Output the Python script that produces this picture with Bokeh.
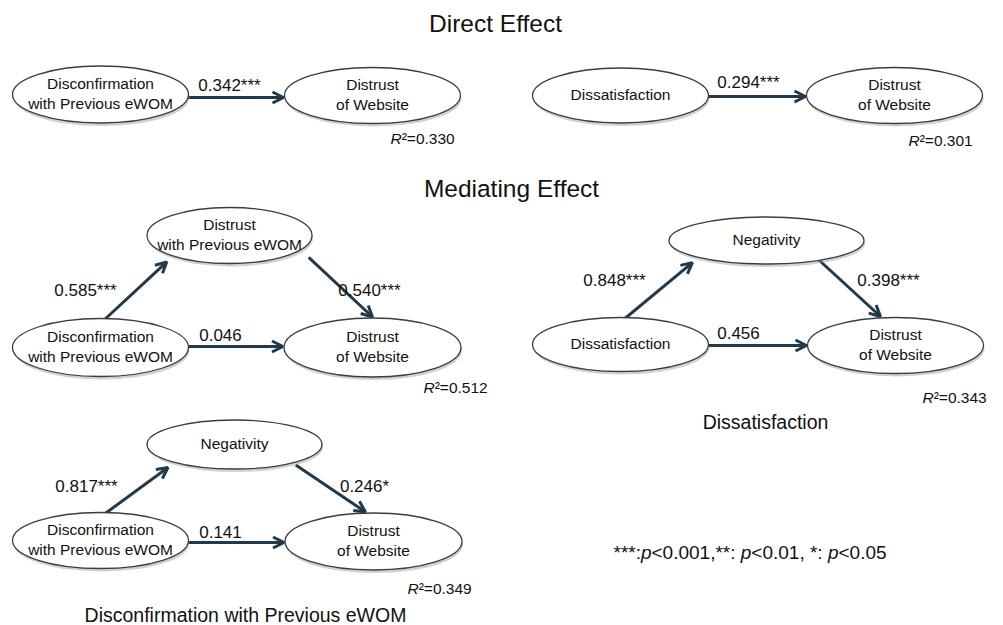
from bokeh.plotting import figure
from bokeh.models import Range1d, ColumnDataSource, Arrow, OpenHead
from bokeh.core.properties import value
from bokeh.embed import file_html
from bokeh.resources import INLINE

FONT = "Liberation Sans"
NAVY = "#1d3a4e"
INK = "#111111"

# ---------------- content ----------------
section_titles = ["Direct Effect", "Mediating Effect"]
panel_captions = ["Dissatisfaction", "Disconfirmation with Previous eWOM"]

panels = ["A", "B", "C", "D", "E"]
node_x = ["Disconfirmation\nwith Previous eWOM", "Dissatisfaction",
          "Disconfirmation\nwith Previous eWOM", "Dissatisfaction",
          "Disconfirmation\nwith Previous eWOM"]
node_m = [None, None, "Distrust\nwith Previous eWOM", "Negativity", "Negativity"]
node_y = ["Distrust\nof Website"] * 5
coef_xy = ["0.342***", "0.294***", "0.046", "0.456", "0.141"]
coef_xm = [None, None, "0.585***", "0.848***", "0.817***"]
coef_my = [None, None, "0.540***", "0.398***", "0.246*"]
r2_values = ["0.330", "0.301", "0.512", "0.343", "0.349"]
note_segments = [("***:", "normal"), ("p", "italic"), ("<0.001,**: ", "normal"),
                 ("p", "italic"), ("<0.01, *: ", "normal"), ("p", "italic"),
                 ("<0.05", "normal")]

# ---------------- layout (pixel positions; text positions = centre x, visual centre y) ----
LAY = {
    "A": dict(x=(100, 94, 176, 57), y=(372, 95, 176, 56), hy=97, l_xy=(229, 85), r2=(390, 138)),
    "B": dict(x=(620, 95, 176, 55), y=(894, 95, 176, 56), hy=96, l_xy=(748, 82), r2=(908, 140)),
    "C": dict(x=(100, 347, 176, 58), m=(229, 235, 165, 56), y=(372, 347, 177, 59), hy=346,
              l_xy=(220, 334), l_xm=(85, 290), l_my=(369, 290),
              down=(0.48, 0.39, 0), r2=(423, 387)),
    "D": dict(x=(620, 344, 176, 54), m=(766, 240, 195, 47), y=(895, 345, 176, 56), hy=345,
              l_xy=(738, 332), l_xm=(614, 280), l_my=(888, 280),
              down=(0.27, 0.42, -15), r2=(922, 397)),
    "E": dict(x=(100, 540, 176, 56), m=(234, 444, 175, 49), y=(373, 541, 177, 57), hy=542,
              l_xy=(220, 531), l_xm=(86, 486), l_my=(364, 486),
              down=(0.35, 0.42, -8), r2=(407, 588)),
}

ADV = {'0': 556, '1': 556, '2': 556, '3': 556, '4': 556, '5': 556, '6': 556, '7': 556,
       '8': 556, '9': 556, '.': 278, ',': 278, ':': 278, '*': 389, '<': 584, '=': 584,
       ' ': 278, 'p': 556, 'R': 722, '\u00b2': 333}


def tw(s, fs):
    return sum(ADV.get(c, 556) for c in s) / 1000.0 * fs


p = figure(width=987, height=625, x_range=Range1d(0, 987), y_range=Range1d(625, 0),
           output_backend="svg", toolbar_location=None, min_border=0,
           x_axis_type=None, y_axis_type=None, outline_line_color=None,
           background_fill_color="white", border_fill_color="white")
p.xgrid.visible = False
p.ygrid.visible = False

texts = {}


def add_text(key, x, y, t):
    d = texts.setdefault(key, dict(x=[], y=[], t=[]))
    d["x"].append(x)
    d["y"].append(y)
    d["t"].append(t)


ell = dict(x=[], y=[], w=[], h=[])
arr = dict(x0=[], y0=[], x1=[], y1=[])

NODE_FS = 15.5
COEF_FS = 17
R2_FS = 15.5


def node(geom, label):
    cx, cy, w, h = geom
    ell["x"].append(cx); ell["y"].append(cy); ell["w"].append(w); ell["h"].append(h)
    lines = label.split("\n")
    n = len(lines)
    for i, ln in enumerate(lines):
        yc = cy - 1 + (i - (n - 1) / 2.0) * 19.5
        add_text(("node",), cx, yc, ln)


for i, key in enumerate(panels):
    L = LAY[key]
    gx, gy = L["x"], L["y"]
    node(gx, node_x[i])
    node(gy, node_y[i])
    # direct path
    ay = L["hy"]
    arr["x0"].append(gx[0] + gx[2] / 2 - 2); arr["y0"].append(ay)
    arr["x1"].append(gy[0] - gy[2] / 2 - 1); arr["y1"].append(ay)
    lx, ly = L["l_xy"]
    add_text(("coef",), lx, ly, coef_xy[i])
    if node_m[i] is not None:
        gm = L["m"]
        node(gm, node_m[i])
        # X -> M
        arr["x0"].append(gx[0] + 2); arr["y0"].append(gx[1] - gx[3] / 2 + 3)
        arr["x1"].append(gm[0] - 0.38 * gm[2]); arr["y1"].append(gm[1] + 0.47 * gm[3])
        # M -> Y
        fx, fy, off = L["down"]
        arr["x0"].append(gm[0] + fx * gm[2]); arr["y0"].append(gm[1] + fy * gm[3])
        arr["x1"].append(gy[0] + off); arr["y1"].append(gy[1] - gy[3] / 2 - 1)
        ax, ayl = L["l_xm"]
        add_text(("coef",), ax, ayl, coef_xm[i])
        bx, by = L["l_my"]
        add_text(("coef",), bx, by, coef_my[i])
    # R squared
    rx, ry = L["r2"]
    add_text(("r2i",), rx, ry, "R")
    add_text(("r2n",), rx + tw("R", R2_FS), ry, "\u00b2=" + r2_values[i])

# arrows (under ellipses)
asrc = ColumnDataSource(arr)
p.add_layout(Arrow(x_start="x0", y_start="y0", x_end="x1", y_end="y1", source=asrc,
                   line_color=NAVY, line_width=3,
                   end=OpenHead(size=11, line_width=3, line_color=NAVY),
                   level="underlay"))

# ellipses with soft shadow
esrc = ColumnDataSource(ell)
shadow = ColumnDataSource(dict(x=[v + 1 for v in ell["x"]], y=[v + 3 for v in ell["y"]],
                               w=ell["w"], h=ell["h"]))
p.ellipse(x="x", y="y", width="w", height="h", source=shadow,
          width_units="screen", height_units="screen",
          fill_color="#9a9a9a", fill_alpha=0.45, line_color=None)
p.ellipse(x="x", y="y", width="w", height="h", source=esrc,
          width_units="screen", height_units="screen",
          fill_color="white", line_color="#3c3c3c", line_width=1.3)

# section titles / captions (centre x, visual centre y)
add_text(("title",), 495, 23, section_titles[0])
add_text(("title",), 511, 188, section_titles[1])
add_text(("cap",), 765, 421, panel_captions[0])
add_text(("cap",), 245, 614, panel_captions[1])

# significance note
NOTE_FS = 19
nx, ny = 613, 552
for seg, style in note_segments:
    add_text(("note", style), nx, ny, seg)
    nx += tw(seg, NOTE_FS)

styles = {
    ("node",): dict(fs=NODE_FS, align="center", style="normal"),
    ("coef",): dict(fs=COEF_FS, align="center", style="normal"),
    ("r2i",): dict(fs=R2_FS, align="left", style="italic"),
    ("r2n",): dict(fs=R2_FS, align="left", style="normal"),
    ("title",): dict(fs=24.5, align="center", style="normal"),
    ("cap",): dict(fs=19.5, align="center", style="normal"),
    ("note", "normal"): dict(fs=NOTE_FS, align="left", style="normal"),
    ("note", "italic"): dict(fs=NOTE_FS, align="left", style="italic"),
}

for key, d in texts.items():
    s = styles[key]
    p.text(x="x", y="y", text="t", source=ColumnDataSource(d),
           text_font=value(FONT), text_font_size=value(f"{s['fs']}px"),
           text_font_style=s["style"], text_align=s["align"],
           text_baseline="alphabetic", text_color=INK)

open("out.html", "w").write(file_html(p, INLINE))
